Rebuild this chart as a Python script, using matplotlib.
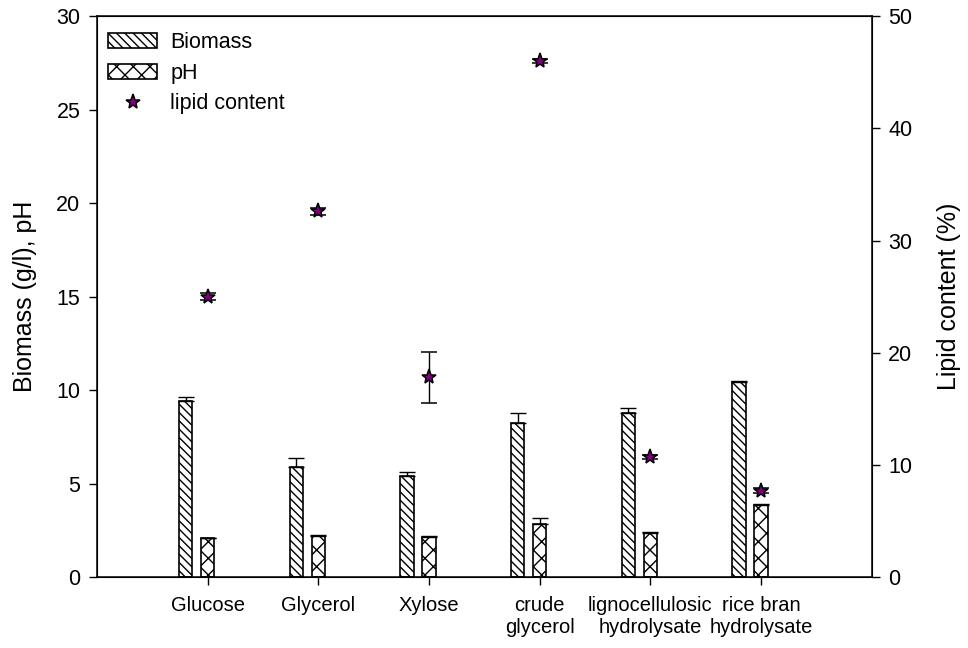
import numpy as np
import matplotlib
matplotlib.use("Agg")
import matplotlib.pyplot as plt
from matplotlib.patches import Patch
from matplotlib.lines import Line2D

plt.rcParams['font.family'] = ['Liberation Sans', 'DejaVu Sans']
plt.rcParams['hatch.linewidth'] = 1.0

# data
categories = ['Glucose', 'Glycerol', 'Xylose', 'crude\nglycerol',
              'lignocellulosic\nhydrolysate', 'rice bran\nhydrolysate']
biomass = [9.43, 5.88, 5.40, 8.22, 8.79, 10.41]
biomass_err = [0.21, 0.50, 0.23, 0.53, 0.23, 0.05]
ph = [2.08, 2.20, 2.15, 2.83, 2.37, 3.85]
ph_err = [0.03, 0.04, 0.03, 0.31, 0.03, 0.03]
lipid = [25.0, 32.6, 17.8, 46.0, 10.7, 7.7]
lipid_err = [0.3, 0.3, 2.3, 0.2, 0.2, 0.2]

x = np.arange(len(categories))
bar_w = 0.12

fig = plt.figure(figsize=(9.68, 6.48), dpi=100)
ax = fig.add_axes([0.1002, 0.1096, 0.8003, 0.8654])

ax.bar(x - 0.2, biomass, width=bar_w, facecolor='white', edgecolor='black',
       linewidth=1.2, hatch='\\\\\\\\', zorder=2)
ax.errorbar(x - 0.2, biomass, yerr=[np.zeros(len(x)), biomass_err], fmt='none',
            ecolor='black', elinewidth=1, capsize=6, capthick=1, zorder=3)
ax.bar(x, ph, width=bar_w, facecolor='white', edgecolor='black',
       linewidth=1.2, hatch='xx', zorder=2)
ax.errorbar(x, ph, yerr=[np.zeros(len(x)), ph_err], fmt='none',
            ecolor='black', elinewidth=1, capsize=6, capthick=1, zorder=3)

ax.set_xlim(-1, 6)
ax.set_ylim(0, 30)
ax.set_yticks(np.arange(0, 31, 5))
ax.set_xticks(x)
ax.set_xticklabels(categories, fontsize=14.5, linespacing=1.2)
ax.tick_params(axis='y', labelsize=15.5, direction='out', length=6, width=1, pad=6)
ax.tick_params(axis='x', direction='out', length=6, width=1, pad=8)
ax.set_ylabel('Biomass (g/l), pH', fontsize=18, labelpad=14)
for s in ax.spines.values():
    s.set_linewidth(1.1)

ax2 = ax.twinx()
ax2.errorbar(x, lipid, yerr=lipid_err, fmt='*', color='black', markersize=11,
             markerfacecolor='#800080', markeredgecolor='black', markeredgewidth=1.1,
             ecolor='black', elinewidth=1, capsize=6, capthick=1, zorder=4)
ax2.set_ylim(0, 50)
ax2.set_yticks(np.arange(0, 51, 10))
ax2.tick_params(axis='y', labelsize=15.5, direction='out', length=6, width=1, pad=6)
ax2.set_ylabel('Lipid content (%)', fontsize=18, labelpad=18)

handles = [
    Patch(facecolor='white', edgecolor='black', hatch='\\\\\\\\', linewidth=1.2),
    Patch(facecolor='white', edgecolor='black', hatch='xx', linewidth=1.2),
    Line2D([], [], linestyle='none', marker='*', markersize=11,
           markerfacecolor='#800080', markeredgecolor='black', markeredgewidth=1.1),
]
ax2.legend(handles, ['Biomass', 'pH', 'lipid content'], loc='upper left',
           bbox_to_anchor=(0, 0.991), frameon=False, fontsize=15.5, handlelength=2.3,
           handleheight=0.7, handletextpad=0.6, borderaxespad=0.15,
           borderpad=0.35, labelspacing=0.45)

fig.savefig('out.png', dpi=100, facecolor='white')
